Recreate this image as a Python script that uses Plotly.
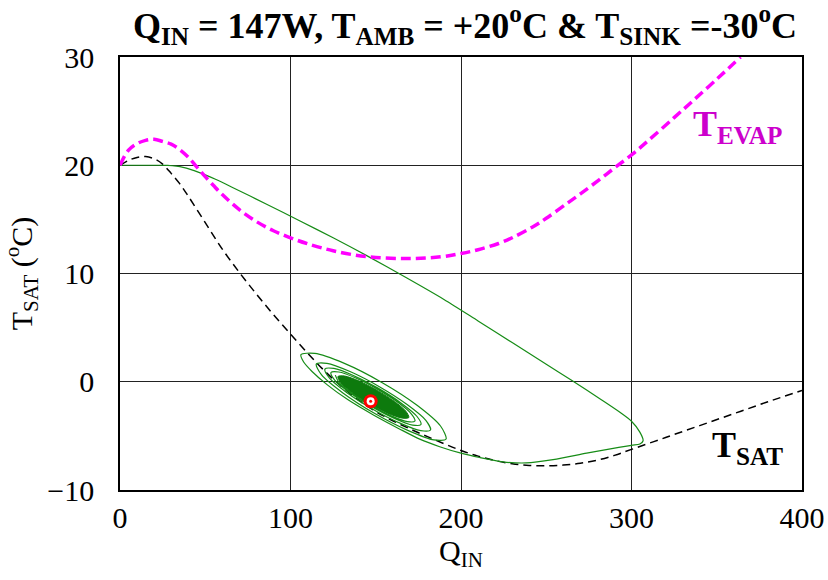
import plotly.graph_objects as go

# ---- data ----
q_sat = [0, 5, 10, 15, 20, 25, 30, 35, 40, 50, 60, 70, 80, 90, 100, 110, 120, 130, 140, 150,
         160, 170, 180, 190, 200, 210, 220, 230, 240, 250, 260, 270, 280, 290, 300, 320, 340,
         360, 380, 400]
t_sat = [20.0, 20.45, 20.72, 20.8, 20.6, 20.1, 19.25, 18.3, 17.15, 14.7, 12.25, 10.1, 8.1, 6.2,
         4.4, 2.65, 1.0, -0.45, -1.7, -2.75, -3.6, -4.35, -5.05, -5.72, -6.35, -6.87, -7.28,
         -7.57, -7.73, -7.77, -7.7, -7.53, -7.24, -6.8, -6.25, -5.15, -4.05, -2.95, -1.85, -0.8]

q_evap = [0, 5, 10, 15, 20, 25, 30, 35, 40, 45, 50, 55, 60, 70, 80, 90, 100, 110, 125, 145,
          168, 188, 200, 210, 222, 230, 242, 250, 262, 270, 281, 290, 300, 310, 325, 336, 350,
          364]
t_evap = [20.0, 21.4, 22.0, 22.3, 22.4, 22.2, 21.95, 21.45, 20.75, 19.85, 18.95, 18.1, 17.3,
          15.9, 14.8, 13.95, 13.3, 12.75, 12.1, 11.55, 11.38, 11.54, 11.85, 12.2, 12.77, 13.3,
          14.3, 15.1, 16.45, 17.35, 18.65, 19.75, 20.95, 22.3, 24.4, 25.95, 27.95, 30.0]

# transient trajectory (outer path followed by the spiral half-turns)
traj_q = [0, 10, 20, 28, 37, 47, 56, 66, 86, 105.6, 125, 144.7, 168, 190, 210, 230, 250, 264.6,
          282.3, 293, 300, 304.9, 306.8, 304.9, 300, 286, 273.7, 254, 238.3, 224.6, 210.9, 200,
          187.5, 175.8, 164.15, 148.63, 133.55, 121.6, 112.63, 107.71, 106.14,
          114.21, 131.61, 153.59, 174.23, 187.99, 191.23,
          184.15, 168.77, 149.21, 130.72, 118.24, 115.12,
          121.36, 134.9, 152.13, 168.39, 179.37, 182.1,
          176.37, 163.88, 147.98, 132.93, 122.76, 120.19,
          125.44, 136.81, 151.28, 164.97, 174.21, 176.51,
          171.62, 160.96, 147.41, 134.58, 125.92, 123.74,
          128.33, 138.28, 150.93, 162.89, 170.95, 172.96,
          168.61, 159.16, 147.16, 135.82, 128.18, 126.28]
traj_t = [20.0, 20.0, 20.0, 19.98, 19.8, 19.3, 18.7, 17.95, 16.4, 14.85, 13.3, 11.65, 9.6, 7.6,
          5.62, 3.62, 1.62, 0.16, -1.66, -2.8, -3.65, -4.65, -5.45, -5.75, -5.87, -6.25, -6.6,
          -7.2, -7.5, -7.4, -7.0, -6.6, -6.0, -5.3, -4.38, -3.07, -1.65, -0.29, 0.95, 1.82, 2.5,
          2.62, 1.70, -0.06, -2.17, -4.09, -5.29,
          -5.37, -4.49, -2.91, -1.03, 0.63, 1.63,
          1.70, 0.94, -0.46, -2.11, -3.57, -4.46,
          -4.52, -3.8, -2.51, -0.99, 0.36, 1.17,
          1.23, 0.58, -0.59, -1.98, -3.21, -3.95,
          -4.0, -3.39, -2.29, -0.99, 0.15, 0.85,
          0.9, 0.34, -0.69, -1.9, -2.98, -3.63,
          -3.69, -3.15, -2.18, -1.03, -0.01, 0.61]

# dense inner core of the spiral
core_q = [169.41, 167.76, 160.99, 150.9, 140.19, 131.73, 127.8, 129.45, 136.23, 146.32, 157.03,
          165.48, 169.41]
core_t = [-3.31, -2.74, -1.82, -0.8, 0.07, 0.53, 0.48, -0.09, -1.01, -2.04, -2.9, -3.36, -3.31]

op_q = [147]
op_t = [-1.8]

x_ticks = [0, 100, 200, 300, 400]
y_ticks = [-10, 0, 10, 20, 30]

FONT = "Liberation Serif"
GREEN = "#168c16"

fig = go.Figure()
fig.add_trace(go.Scatter(x=q_sat, y=t_sat, mode="lines", hoverinfo="skip",
                         line=dict(color="black", width=1.5, dash="8px,5px", shape="spline")))
fig.add_trace(go.Scatter(x=traj_q, y=traj_t, mode="lines", hoverinfo="skip",
                         line=dict(color=GREEN, width=1.2, shape="spline", smoothing=0.8)))
fig.add_trace(go.Scatter(x=core_q, y=core_t, mode="lines", fill="toself", fillcolor="#0d7a0d",
                         hoverinfo="skip",
                         line=dict(color="#0d7a0d", width=1, shape="spline", smoothing=0.8)))
fig.add_trace(go.Scatter(x=q_evap, y=t_evap, mode="lines", hoverinfo="skip",
                         line=dict(color="#ff00ff", width=3.5, dash="10px,5px", shape="spline")))
fig.add_trace(go.Scatter(x=op_q, y=op_t, mode="markers",
                         marker=dict(size=14, color="#ff0000", line=dict(width=0))))
fig.add_trace(go.Scatter(x=op_q, y=op_t, mode="markers",
                         marker=dict(size=8, color="white", line=dict(width=0))))
fig.add_trace(go.Scatter(x=op_q, y=op_t, mode="markers",
                         marker=dict(size=3, color="#ff0000", line=dict(width=0))))

fig.add_annotation(x=362, y=23.6, xref="x", yref="y", showarrow=False,
                   text="<b>T<sub>EVAP</sub></b>",
                   font=dict(family=FONT, size=36, color="#cc00cc"))
fig.add_annotation(x=368, y=-6.1, xref="x", yref="y", showarrow=False,
                   text="<b>T<sub>SAT</sub></b>",
                   font=dict(family=FONT, size=36, color="black"))

axis_common = dict(showgrid=True, gridcolor="#222222", gridwidth=1, showline=True,
                   linecolor="black", linewidth=1.5, mirror=True, ticks="", zeroline=False,
                   automargin=False,
                   tickfont=dict(family=FONT, size=30, color="black"))

fig.update_layout(
    width=828, height=580,
    margin=dict(l=120, r=26, t=57, b=90),
    paper_bgcolor="white", plot_bgcolor="white",
    showlegend=False,
    font=dict(family=FONT, color="black"),
    title=dict(text="<b>Q<sub>IN</sub> = 147W, T<sub>AMB</sub> = +20<sup>o</sup>C &amp; "
                    "T<sub>SINK</sub> =-30<sup>o</sup>C</b>",
               x=0.5616, xanchor="center", y=0.957, yanchor="middle",
               font=dict(family=FONT, size=36, color="black")),
    xaxis=dict(range=[0, 400], tickvals=x_ticks, ticklabelstandoff=0,
               title=dict(text="Q<sub>IN</sub>", font=dict(family=FONT, size=30), standoff=6),
               **axis_common),
    yaxis=dict(range=[-10, 30], tickvals=y_ticks, ticklabelstandoff=18,
               title=dict(text="T<sub>SAT</sub> (<sup>o</sup>C)", font=dict(family=FONT, size=30),
                          standoff=10),
               **axis_common),
)

fig.write_html("out.html",
               config={"displayModeBar": False},
               post_script="document.body.style.margin='0px';document.body.style.padding='0px';")
